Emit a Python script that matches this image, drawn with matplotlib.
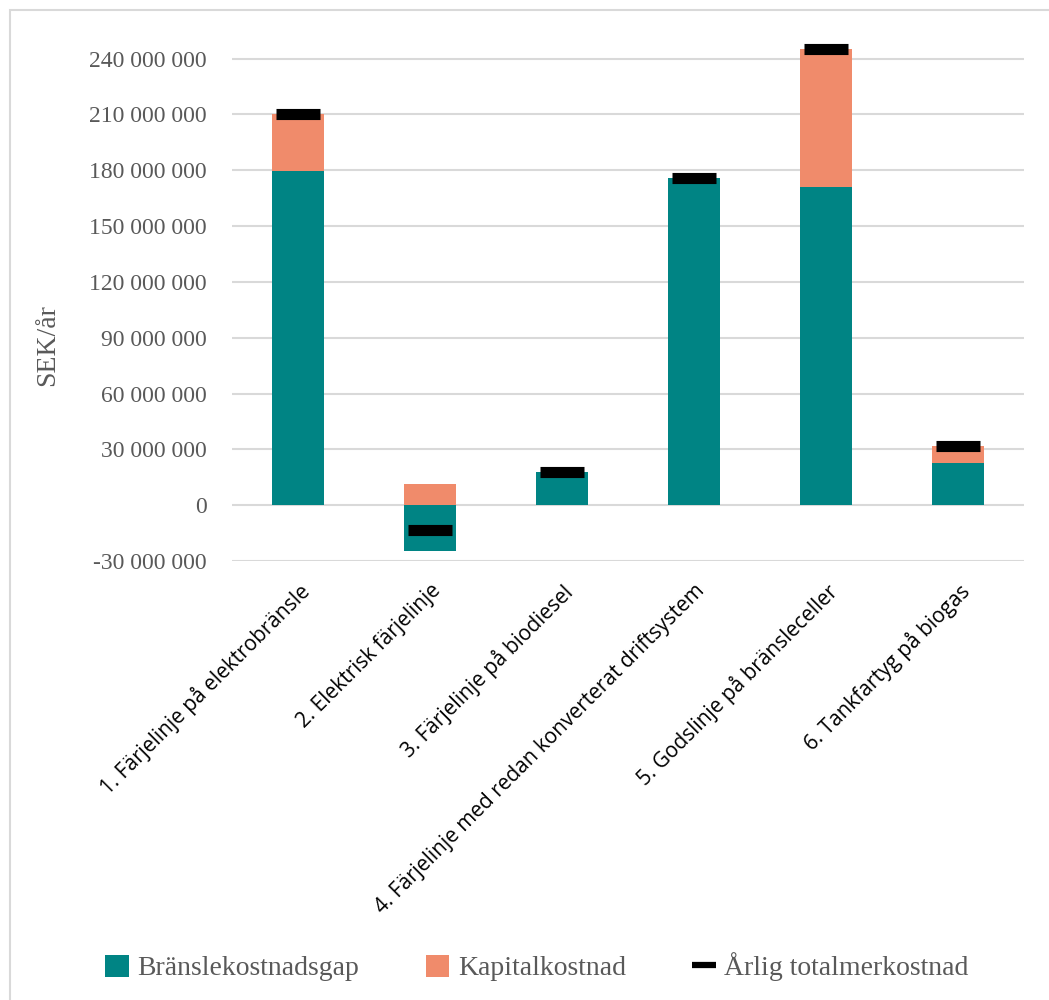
import matplotlib.pyplot as plt
from matplotlib.patches import Patch, Rectangle
from matplotlib.lines import Line2D
from matplotlib.ticker import FuncFormatter

# data (SEK/år)
kategorier = [
    "1. Färjelinje på elektrobränsle",
    "2. Elektrisk färjelinje",
    "3. Färjelinje på biodiesel",
    "4. Färjelinje med redan konverterat driftsystem",
    "5. Godslinje på bränsleceller",
    "6. Tankfartyg på biogas",
]
bransle_gap = [179.4e6, -24.4e6, 17.7e6, 175.7e6, 170.8e6, 22.7e6]
kapital = [31.0e6, 11.3e6, 0.0, 0.0, 74.2e6, 9.0e6]
total = [210.4e6, -13.1e6, 17.7e6, 175.7e6, 245.0e6, 31.7e6]
yticks = [-30e6, 0, 30e6, 60e6, 90e6, 120e6, 150e6, 180e6, 210e6, 240e6]

teal = "#008484"
lax = "#F08B6B"
grid = "#D9D9D9"
gray = "#595959"
serif = "Liberation Serif"
sans = "Open Sans"

fig = plt.figure(figsize=(10.49, 10), dpi=100)
ax = fig.add_axes([232 / 1049, 1 - 561 / 1000, (1024 - 232) / 1049, (561 - 40) / 1000])

x = list(range(len(kategorier)))
# kapital ligger ovanpå bränslet om det är positivt, annars från noll
kap_bottom = [b if b > 0 else 0 for b in bransle_gap]
ax.bar(x, bransle_gap, width=0.4, color=teal, zorder=2)
ax.bar(x, kapital, width=0.4, bottom=kap_bottom, color=lax, zorder=2)
ax.plot(x, total, linestyle="none", marker="_", markersize=32, mew=8,
        color="black", zorder=3)

ax.set_xlim(-0.5, len(kategorier) - 0.5)
ax.set_ylim(-30e6, 250e6)
ax.set_yticks(yticks)
ax.yaxis.set_major_formatter(FuncFormatter(lambda v, p: f"{int(v):,}".replace(",", " ")))
ax.grid(axis="y", color=grid, linewidth=1.5, zorder=0)
ax.set_axisbelow(True)
for s in ax.spines.values():
    s.set_visible(False)
ax.tick_params(axis="y", length=0, pad=18, labelsize=17, labelcolor=gray)
ax.tick_params(axis="x", length=0, pad=14)
for lab in ax.get_yticklabels():
    lab.set_fontfamily(serif)

ax.set_xticks(x)
ax.set_xticklabels(kategorier, rotation=45, ha="right", rotation_mode="anchor",
                   fontsize=15, fontfamily=sans, color="black")

fig.text(48 / 1049, 1 - 345 / 1000, "SEK/år", rotation=90, ha="center", va="center",
         fontsize=20, fontfamily=serif, color=gray)

handles = [
    Patch(facecolor=teal, edgecolor="none"),
    Patch(facecolor=lax, edgecolor="none"),
    Line2D([], [], color="black", linewidth=4.5, solid_capstyle="butt"),
]
fig.legend(handles, ["Bränslekostnadsgap", "Kapitalkostnad", "Årlig totalmerkostnad"],
           loc="center", bbox_to_anchor=(537 / 1049, 1 - 967 / 1000), ncol=3,
           frameon=False, handlelength=0.85, handleheight=0.85, handletextpad=0.3,
           columnspacing=2.4, prop={"family": serif, "size": 20},
           labelcolor=gray)

# ram runt diagrammet
fig.patches.append(Rectangle((10 / 1049, -0.1), 1.2, 1.1 - 10 / 1000,
                             transform=fig.transFigure, fill=False,
                             edgecolor="#D9D9D9", linewidth=1.5))

fig.savefig("out.png", dpi=100)
